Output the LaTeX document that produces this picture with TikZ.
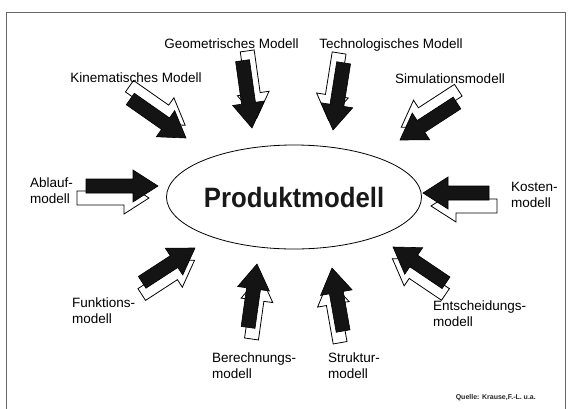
\documentclass[tikz,border=0pt]{standalone}
\usepackage{graphicx}
\usepackage{fontspec}
\setmainfont{Liberation Sans}
\usetikzlibrary{shapes.geometric}

% Block arrow pair: an outlined copy behind a filled one.
% #1 name of the tip, #2 tip, #3 rotation, #4 length, #5 offset of the outlined copy
\newcommand{\modelarrow}[5]{%
  \begin{scope}[shift={#2}, rotate=#3]
    \coordinate (#1) at (0,0);
    \draw[hollowarrow, shift={#5}] (0,0) -- (-25,16) -- (-25,7) -- (-#4,7)
      -- (-#4,-7) -- (-25,-7) -- (-25,-16) -- cycle;
    \draw[solidarrow] (0,0) -- (-25,16) -- (-25,7) -- (-#4,7)
      -- (-#4,-7) -- (-25,-7) -- (-25,-16) -- cycle;
  \end{scope}}

\begin{document}
\begin{tikzpicture}[x=1pt, y=-1pt,
  lbl/.style={font=\fontsize{13.5}{16}\selectfont, text=black, inner sep=0pt, align=left},
  hollowarrow/.style={fill=white, draw=black, line width=0.8pt},
  solidarrow/.style={fill=black!92, draw=black, line width=0.6pt},
  frameline/.style={draw=black!60, line width=0.8pt},
]
\useasboundingbox (0,0) rectangle (571,408);
\fill[white] (0,0) rectangle (571,408);

% page frame
\draw[frameline] (6.5,412) |- (565.5,12.5) -- (565.5,412);

% central model
\node[draw, ellipse, line width=0.8pt, minimum width=216pt, minimum height=104pt,
      inner sep=0pt, font=\fontsize{28}{30}\selectfont\bfseries, text=black!90]
  (pm) at (294,197) {\scalebox{0.92}[1]{Produktmodell}};

% arrows pointing to the central model
\modelarrow{kin}{(186,138)}{-35}{68}{(-8,-10)}
\modelarrow{geo}{(252,128)}{-82}{68}{(-9,-6)}
\modelarrow{tec}{(333,130)}{-99}{68}{(-9,6)}
\modelarrow{sim}{(400,140)}{-147}{68}{(-8,10)}
\modelarrow{abl}{(158,186)}{0}{72}{(-9,12)}
\modelarrow{kos}{(423,193)}{180}{66}{(-8,-13)}
\modelarrow{fun}{(195,248)}{33}{63}{(-7,10)}
\modelarrow{ber}{(257,264)}{82}{64}{(-11,5)}
\modelarrow{str}{(332,268)}{100}{64}{(-11,-5)}
\modelarrow{ent}{(393,247)}{146}{64}{(-6,-10)}

% labels
\node[lbl, anchor=base] (lkin) at (136,82) {Kinematisches Modell};
\node[lbl, anchor=base] (lgeo) at (231.5,48) {Geometrisches Modell};
\node[lbl, anchor=base] (ltec) at (391,48) {Technologisches Modell};
\node[lbl, anchor=base] (lsim) at (450,83) {Simulationsmodell};
\node[lbl, anchor=north west] (labl) at (30,178) {Ablauf-\\modell};
\node[lbl, anchor=north west] (lkos) at (511,182) {Kosten-\\modell};
\node[lbl, anchor=north west] (lfun) at (72,298) {Funktions-\\modell};
\node[lbl, anchor=north west] (lber) at (212,353) {Berechnungs-\\modell};
\node[lbl, anchor=north west] (lstr) at (328,353) {Struktur-\\modell};
\node[lbl, anchor=north west] (lent) at (433,301) {Entscheidungs-\\modell};

\node[font=\fontsize{7}{8}\selectfont\bfseries, text=black!85, inner sep=0pt, anchor=base east]
  (src) at (536,399) {Quelle: Krause,F.-L. u.a.};
\end{tikzpicture}
\end{document}
